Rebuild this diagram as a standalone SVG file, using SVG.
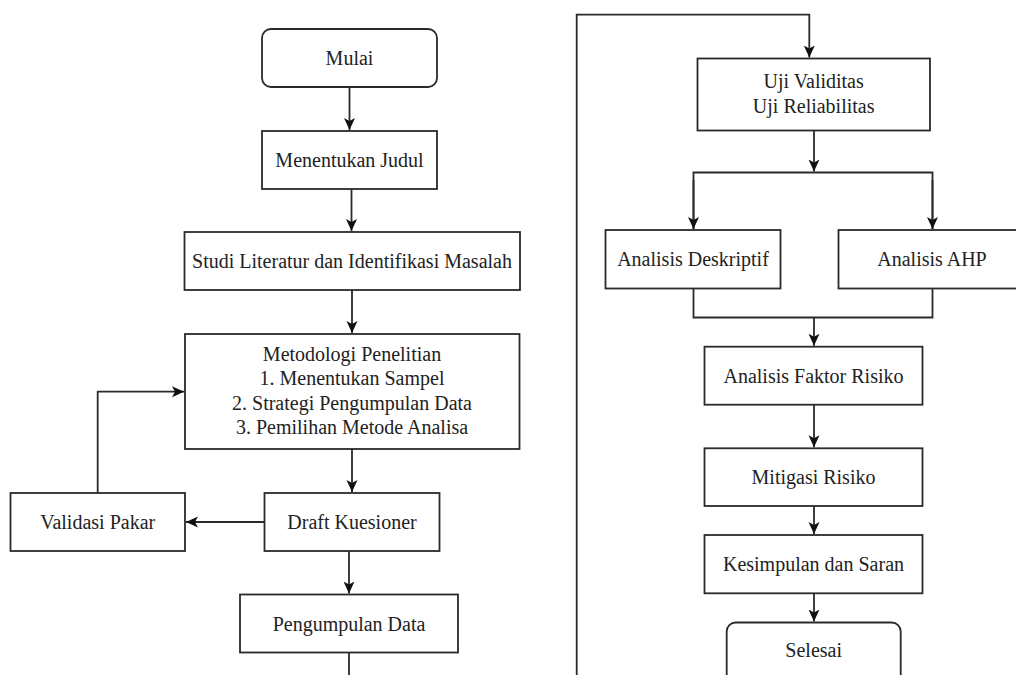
<svg xmlns="http://www.w3.org/2000/svg" width="1016" height="675" viewBox="0 0 1016 675">
<style>
.box{fill:#fff;stroke:#2a2a2a;stroke-width:1.8}
.t{font-family:'Liberation Serif','DejaVu Serif',serif;font-size:20px;fill:#222;text-anchor:middle}
.c{fill:none;stroke:#2a2a2a;stroke-width:1.8}
</style>
<defs>
<marker id="ah" markerUnits="userSpaceOnUse" markerWidth="13" markerHeight="12" refX="12" refY="6" orient="auto" viewBox="0 0 13 12">
<path d="M0,0.5 L12,6 L0,11.5 L3,6 z" fill="#111"/>
</marker>
</defs>
<rect width="1016" height="675" fill="#fff"/>
<g id="connectors">
<path class="c" d="M349.5,87 V130" marker-end="url(#ah)"/>
<path class="c" d="M351.5,189 V231" marker-end="url(#ah)"/>
<path class="c" d="M352,290 V333" marker-end="url(#ah)"/>
<path class="c" d="M352,449 V492" marker-end="url(#ah)"/>
<path class="c" d="M264.5,522 H186" marker-end="url(#ah)"/>
<path class="c" d="M97.7,493 V391.7 H184" marker-end="url(#ah)"/>
<path class="c" d="M349,551 V593.5" marker-end="url(#ah)"/>
<path class="c" d="M349,652.5 V676"/>
<path class="c" d="M576.7,676 V14.7 H809.3 V57.5" marker-end="url(#ah)"/>
<path class="c" d="M814,130.5 V171.5" marker-end="url(#ah)"/>
<path class="c" d="M693.5,229 V172.5 H932.5 V229"/>
<path class="c" d="M693.5,180 V229" marker-end="url(#ah)"/>
<path class="c" d="M932.5,180 V229" marker-end="url(#ah)"/>
<path class="c" d="M693.5,288.5 V317.5 H932.5 V288.5"/>
<path class="c" d="M814,317.5 V345.7" marker-end="url(#ah)"/>
<path class="c" d="M814,404.7 V447.3" marker-end="url(#ah)"/>
<path class="c" d="M814,506 V534" marker-end="url(#ah)"/>
<path class="c" d="M814,593.3 V621.5" marker-end="url(#ah)"/>
</g>
<g id="mulai"><rect class="box" x="262" y="29" width="175" height="58" rx="9"/><text class="t" x="349.5" y="65">Mulai</text></g>
<g id="judul"><rect class="box" x="262" y="131" width="175" height="58"/><text class="t" x="349.5" y="167">Menentukan Judul</text></g>
<g id="studi"><rect class="box" x="184.5" y="232" width="335.5" height="58"/><text class="t" x="352" y="268">Studi Literatur dan Identifikasi Masalah</text></g>
<g id="metodologi"><rect class="box" x="185" y="334" width="334.5" height="115"/>
<text class="t" x="352" y="360.5">Metodologi Penelitian</text>
<text class="t" x="352" y="385">1. Menentukan Sampel</text>
<text class="t" x="352" y="409.5">2. Strategi Pengumpulan Data</text>
<text class="t" x="352" y="434">3. Pemilihan Metode Analisa</text></g>
<g id="draft"><rect class="box" x="264.5" y="493" width="175" height="58"/><text class="t" x="352" y="529">Draft Kuesioner</text></g>
<g id="validasi"><rect class="box" x="10.5" y="493" width="174.5" height="58"/><text class="t" x="97.7" y="529">Validasi Pakar</text></g>
<g id="pengumpulan"><rect class="box" x="240" y="594.5" width="218" height="58"/><text class="t" x="349" y="630.5">Pengumpulan Data</text></g>
<g id="uji"><rect class="box" x="697.5" y="58.5" width="232.5" height="72"/>
<text class="t" x="813.7" y="88">Uji Validitas</text>
<text class="t" x="813.7" y="113">Uji Reliabilitas</text></g>
<g id="deskriptif"><rect class="box" x="605.5" y="230" width="175" height="58.5"/><text class="t" x="693" y="266">Analisis Deskriptif</text></g>
<g id="ahp"><rect class="box" x="838.5" y="230" width="190" height="58.5"/><text class="t" x="932" y="266">Analisis AHP</text></g>
<g id="faktor"><rect class="box" x="704.5" y="346.7" width="218" height="58"/><text class="t" x="813.5" y="382.7">Analisis Faktor Risiko</text></g>
<g id="mitigasi"><rect class="box" x="704.5" y="448.3" width="218" height="57.7"/><text class="t" x="813.5" y="484">Mitigasi Risiko</text></g>
<g id="kesimpulan"><rect class="box" x="704.5" y="535" width="218" height="58.3"/><text class="t" x="813.5" y="571">Kesimpulan dan Saran</text></g>
<g id="selesai"><rect class="box" x="726.7" y="622.5" width="174" height="70" rx="9"/><text class="t" x="813.7" y="657">Selesai</text></g>
</svg>
